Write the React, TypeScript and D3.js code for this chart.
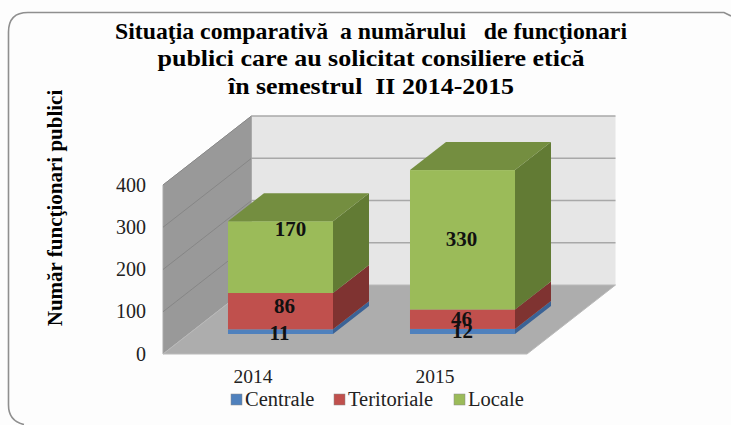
import * as d3 from "d3";

const years = ["2014", "2015"];
const seriesNames = ["Centrale", "Teritoriale", "Locale"];
const centrale = [11, 12];
const teritoriale = [86, 46];
const locale = [170, 330];
const yTicks = [0, 100, 200, 300, 400];
const titleLines = [
  "Situaţia comparativă  a numărului   de funcţionari",
  "publici care au solicitat consiliere etică",
  "în semestrul  II 2014-2015",
];
const titleWidths = [512, 427, 286];

// culori: fata, lateral, sus
const colors = [
  { front: "#4f81bd", side: "#3b6396", top: "#3f6797" },
  { front: "#c0504d", side: "#7f3331", top: "#99403d" },
  { front: "#9bbb59", side: "#627b34", top: "#748e40" },
];

// etichetele sunt mutate manual in original, fata de centrul segmentului
const labelNudge = [
  [[-1, 1], [0, 0]],
  [[4, -5], [-1, 0]],
  [[10, -28], [-1, -1]],
];

const W = 731;
const H = 425;

// peretii graficului 3D
const floorFront = { x0: 163, x1: 527, y: 354 };
const depth = { dx: 88.5, dy: 69 };
const barDepth = { dx: 36, dy: 28 };
const barBase = 334;

const scaleWall = d3.scaleLinear().domain([0, 400]).range([floorFront.y, 185]);
const scaleBar = d3.scaleLinear().domain([0, 400]).range([barBase, barBase - 169]);
const scaleX = d3.scaleBand().domain(years).range([189.5, 553.5]).paddingInner(0.423).paddingOuter(0.2115);

const line = d3.line();
const poly = (pts: [number, number][]) => line(pts) + "Z";

const serif = "'Liberation Serif', 'Times New Roman', serif";

const App = () => {
  const stack = d3
    .stack()
    .keys(["0", "1", "2"])(years.map((_, i) => ({ 0: centrale[i], 1: teritoriale[i], 2: locale[i] })) as any);

  const backX0 = floorFront.x0 + depth.dx;
  const backX1 = floorFront.x1 + depth.dx;
  const top = scaleWall(400);
  const gridBack = (v: number) => scaleWall(v) - depth.dy;

  return (
    <svg
      width={W}
      height={H}
      style={{ position: "absolute", left: 0, top: 0, display: "block", background: "#fdfdfd" }}
      fontFamily={serif}
    >
      {/* chenarul e taiat in dreapta si jos */}
      <path
        d="M24,424.5 Q8.5,421 8.5,405 V32 Q8.5,12.5 28,12.5 H724 L731,16"
        fill="none"
        stroke="#8f8f8f"
        strokeWidth={1.6}
      />

      {titleLines.map((t, i) => (
        <text
          key={i}
          x={371}
          y={38.5 + i * 27.5}
          textAnchor="middle"
          fontSize={24}
          fontWeight="bold"
          fill="#000"
          textLength={titleWidths[i]}
          lengthAdjust="spacingAndGlyphs"
          style={{ whiteSpace: "pre" }}
        >
          {t}
        </text>
      ))}

      {/* perete spate */}
      <path d={poly([[backX0, gridBack(0)], [backX0, gridBack(400)], [backX1, gridBack(400)], [backX1, gridBack(0)]])} fill="#e6e6e6" />
      {/* perete stanga */}
      <path d={poly([[floorFront.x0, floorFront.y], [floorFront.x0, top], [backX0, top - depth.dy], [backX0, floorFront.y - depth.dy]])} fill="#999999" stroke="#aaaaaa" />
      {/* podea */}
      <path d={poly([[floorFront.x0, floorFront.y], [floorFront.x1, floorFront.y], [backX1, floorFront.y - depth.dy], [backX0, floorFront.y - depth.dy]])} fill="#adadad" stroke="#bababa" />

      {yTicks.map((v) => (
        <g key={v}>
          {v > 0 && (
            <>
              <path d={line([[floorFront.x0, scaleWall(v)], [backX0, gridBack(v)]])!} fill="none" stroke="#868686" />
              <path d={line([[backX0, gridBack(v)], [backX1, gridBack(v)]])!} fill="none" stroke="#a8a8a8" strokeWidth={1.5} />
            </>
          )}
          <text x={146} y={scaleWall(v)} dy="0.33em" textAnchor="end" fontSize={20} fill="#222">
            {v}
          </text>
        </g>
      ))}

      {/* coloane */}
      {years.map((year, i) => {
        const x0 = scaleX(year)!;
        const x1 = x0 + scaleX.bandwidth();
        return (
          <g key={year}>
            {stack.map((layer, s) => {
              const y0 = scaleBar(layer[i][0]);
              const y1 = scaleBar(layer[i][1]);
              return (
                <g key={s}>
                  <path
                    d={poly([[x1, y0], [x1, y1], [x1 + barDepth.dx, y1 - barDepth.dy], [x1 + barDepth.dx, y0 - barDepth.dy]])}
                    fill={colors[s].side}
                  />
                  <rect x={x0} y={y1} width={x1 - x0} height={y0 - y1} fill={colors[s].front} />
                  {s === 2 && (
                    <path
                      d={poly([[x0, y1], [x1, y1], [x1 + barDepth.dx, y1 - barDepth.dy], [x0 + barDepth.dx, y1 - barDepth.dy]])}
                      fill={colors[s].top}
                    />
                  )}
                </g>
              );
            })}
          </g>
        );
      })}

      {/* valori */}
      {years.map((year, i) =>
        stack.map((layer, s) => {
          const xc = scaleX(year)! + scaleX.bandwidth() / 2;
          const yc = (scaleBar(layer[i][0]) + scaleBar(layer[i][1])) / 2;
          return (
            <text
              key={year + s}
              x={xc + labelNudge[s][i][0]}
              y={yc + labelNudge[s][i][1]}
              dy="0.33em"
              textAnchor="middle"
              fontSize={21}
              fontWeight="bold"
              fill="#111"
            >
              {[centrale, teritoriale, locale][s][i]}
            </text>
          );
        })
      )}

      {/* axa x */}
      {years.map((year) => (
        <text key={year} x={scaleX(year)! + scaleX.bandwidth() / 2 - 27.5} y={383} textAnchor="middle" fontSize={19.5} fill="#222">
          {year}
        </text>
      ))}

      <text
        transform="translate(62,208) rotate(-90)"
        textAnchor="middle"
        fontSize={21}
        fontWeight="bold"
        fill="#000"
      >
        Număr funcţionari publici
      </text>

      {/* legenda */}
      {seriesNames.map((name, i) => {
        const lx = [231, 334, 454][i];
        return (
          <g key={name}>
            <rect x={lx} y={394} width={11} height={11} fill={colors[i].front} stroke="#8a8a8a" strokeWidth={0.5} />
            <text x={lx + 14} y={405.5} fontSize={20.5} fill="#222">
              {name}
            </text>
          </g>
        );
      })}
    </svg>
  );
};

export default App;
